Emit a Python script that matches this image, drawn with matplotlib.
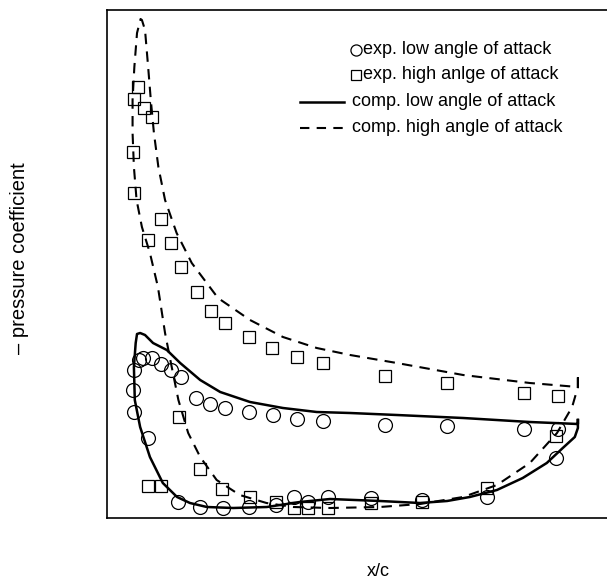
import matplotlib
matplotlib.use("Agg")
import matplotlib.pyplot as plt
import numpy as np

plt.rcParams['font.family'] = ['Liberation Sans', 'DejaVu Sans']

# experimental, low angle of attack (x/c, -Cp)
exp_low_x = [0.003, 0.014, 0.023, 0.042, 0.063, 0.085, 0.107, 0.001, 0.003, 0.034,
             0.141, 0.173, 0.207, 0.261, 0.315, 0.368, 0.426, 0.566, 0.705, 0.879, 0.955,
             0.951, 0.795, 0.649, 0.534, 0.438, 0.394, 0.362, 0.321, 0.261, 0.202, 0.151, 0.102]
exp_low_y = [1.30, 1.40, 1.42, 1.42, 1.36, 1.30, 1.23, 1.10, 0.88, 0.62,
             1.02, 0.96, 0.92, 0.88, 0.85, 0.81, 0.79, 0.75, 0.74, 0.71, 0.71,
             0.42, 0.03, 0.00, 0.02, 0.03, -0.02, 0.03, -0.05, -0.07, -0.08, -0.07, -0.02]

# experimental, high angle of attack
exp_high_x = [0.012, 0.003, 0.025, 0.043, -0.001, 0.003, 0.063, 0.033, 0.085, 0.108,
              0.143, 0.175, 0.207, 0.261, 0.313, 0.368, 0.426, 0.566, 0.705, 0.879, 0.956,
              0.951, 0.795, 0.649, 0.534, 0.438, 0.394, 0.362, 0.321, 0.263, 0.201, 0.151,
              0.103, 0.033, 0.063]
exp_high_y = [4.13, 4.01, 3.92, 3.83, 3.48, 3.07, 2.81, 2.60, 2.57, 2.33,
              2.08, 1.89, 1.77, 1.63, 1.52, 1.43, 1.37, 1.24, 1.17, 1.07, 1.04,
              0.64, 0.12, -0.02, -0.03, -0.08, -0.08, -0.08, -0.02, 0.03, 0.11, 0.31,
              0.83, 0.14, 0.14]

# computed, low angle of attack
comp_low_x = [1.000, 1.000, 0.892, 0.742, 0.593, 0.488, 0.413, 0.337, 0.263, 0.196,
              0.151, 0.106, 0.076, 0.045, 0.027, 0.016, 0.009, 0.006, 0.002, 0.004,
              0.016, 0.038, 0.067, 0.099, 0.128, 0.166, 0.225, 0.301, 0.375, 0.443,
              0.555, 0.645, 0.706, 0.757, 0.818, 0.876, 0.930, 0.966, 0.993, 1.000, 1.000]
comp_low_y = [0.80, 0.76, 0.78, 0.82, 0.85, 0.87, 0.88, 0.92, 0.98, 1.08,
              1.20, 1.37, 1.50, 1.57, 1.65, 1.67, 1.66, 1.57, 1.33, 1.00,
              0.73, 0.43, 0.17, 0.03, -0.03, -0.07, -0.08, -0.07, -0.02, 0.01,
              -0.01, -0.03, -0.01, 0.03, 0.10, 0.22, 0.37, 0.52, 0.63, 0.72, 0.80]

# computed, high angle of attack
comp_high_x = [1.000, 1.000, 0.892, 0.742, 0.593, 0.488, 0.413, 0.337, 0.263, 0.191,
               0.132, 0.098, 0.072, 0.057, 0.047, 0.040, 0.034, 0.027, 0.020, 0.017,
               0.009, 0.003, -0.001, -0.001, 0.002, 0.008, 0.020, 0.038, 0.056, 0.072,
               0.087, 0.102, 0.124, 0.151, 0.188, 0.240, 0.300, 0.360, 0.443, 0.555,
               0.645, 0.742, 0.818, 0.892, 0.953, 0.987, 1.000, 1.000]
comp_high_y = [1.23, 1.13, 1.17, 1.25, 1.37, 1.45, 1.52, 1.63, 1.80, 2.02,
               2.37, 2.67, 3.00, 3.33, 3.67, 4.00, 4.33, 4.70, 4.80, 4.81,
               4.67, 4.33, 4.00, 3.67, 3.33, 3.00, 2.73, 2.47, 2.13, 1.67,
               1.33, 1.00, 0.67, 0.43, 0.20, 0.05, -0.03, -0.07, -0.08, -0.07,
               -0.04, 0.03, 0.15, 0.37, 0.67, 0.93, 1.13, 1.23]

labels = ["exp. low angle of attack", "exp. high anlge of attack",
          "comp. low angle of attack", "comp. high angle of attack"]

DASH = (0, (5, 3.5))

fig = plt.figure(figsize=(6.07, 5.79), dpi=100)
ax = fig.add_axes([106.5/607, 61/579, 1 - 106.5/607, 508.5/579])

ax.plot(comp_low_x, comp_low_y, color='black', lw=1.8)
ax.plot(comp_high_x, comp_high_y, color='black', lw=1.5, ls=DASH)
ax.plot(exp_low_x, exp_low_y, ls='none', marker='o', ms=10, mfc='none', mec='black', mew=0.9)
ax.plot(exp_high_x, exp_high_y, ls='none', marker='s', ms=8.5, mfc='none', mec='black', mew=0.9)

ax.set_xlim(-0.0596, 1.0654)
ax.set_ylim(-0.18, 4.905)
ax.set_xticks([])
ax.set_yticks([])
ax.spines['right'].set_visible(False)
for s in ['left', 'top', 'bottom']:
    ax.spines[s].set_linewidth(1.2)

# hand-placed legend (axes fraction coordinates)
T = ax.transAxes
ax.plot([0.4995], [0.9204], transform=T, ls='none', marker='o', ms=8, mfc='none',
        mec='black', mew=0.9, clip_on=False)
ax.plot([0.4995], [0.8712], transform=T, ls='none', marker='s', ms=7, mfc='none',
        mec='black', mew=0.9, clip_on=False)
ax.plot([0.3866, 0.4745], [0.8181, 0.8181], transform=T, color='black', lw=1.8, clip_on=False)
ax.plot([0.3866, 0.4745], [0.7670, 0.7670], transform=T, color='black', lw=1.5,
        ls=(0, (4.5, 3.5)), clip_on=False)
ax.text(0.5125, 0.9204, labels[0], transform=T, fontsize=13, va='center', ha='left')
ax.text(0.5125, 0.8712, labels[1], transform=T, fontsize=13, va='center', ha='left')
ax.text(0.4905, 0.8181, labels[2], transform=T, fontsize=13, va='center', ha='left')
ax.text(0.4905, 0.7670, labels[3], transform=T, fontsize=13, va='center', ha='left')

fig.text(378/607, 1 - 572/579, "x/c", ha='center', va='center', fontsize=13)
fig.text(20/607, 1 - 258/579, "– pressure coefficient", ha='center', va='center',
         rotation=90, fontsize=14.5)

fig.savefig("out.png", dpi=100)
